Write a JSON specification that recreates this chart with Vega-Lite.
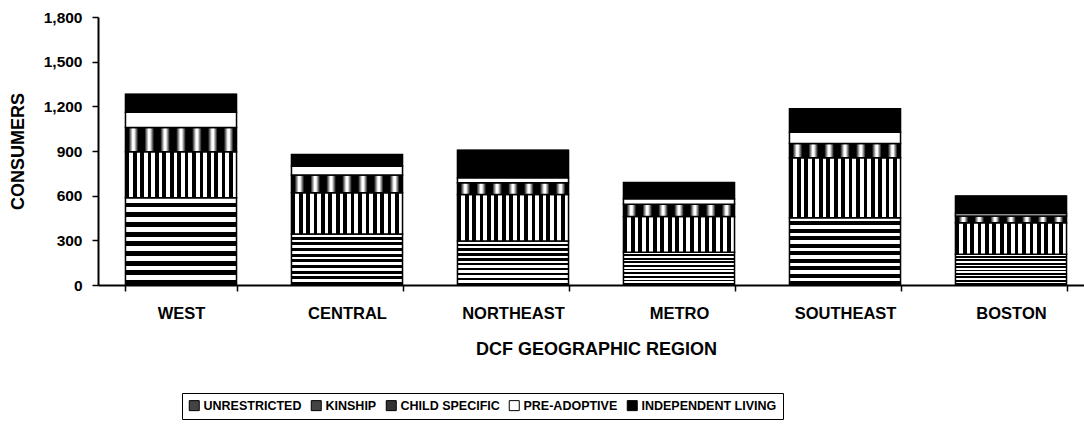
{
  "$schema": "https://vega.github.io/schema/vega-lite/v6.json",
  "autosize": {"type": "none"},
  "padding": {"left": 98, "top": 17, "right": 0, "bottom": 140},
  "width": 986,
  "height": 268,
  "background": "white",
  "config": {
    "view": {"stroke": null},
    "font": "Liberation Sans",
    "axis": {
      "domainColor": "black", "domainWidth": 2, "tickColor": "black", "tickWidth": 1.5,
      "labelColor": "black", "titleColor": "black",
      "labelFont": "Liberation Sans", "titleFont": "Liberation Sans",
      "labelFontWeight": "bold", "titleFontWeight": "bold", "grid": false
    },
    "legend": {
      "labelFont": "Liberation Sans", "labelFontWeight": "bold", "labelColor": "black"
    }
  },
  "data": {
    "values": [
      {"region": "WEST", "type": "UNRESTRICTED", "value": 586},
      {"region": "WEST", "type": "KINSHIP", "value": 309},
      {"region": "WEST", "type": "CHILD SPECIFIC", "value": 163},
      {"region": "WEST", "type": "PRE-ADOPTIVE", "value": 102},
      {"region": "WEST", "type": "INDEPENDENT LIVING", "value": 121},
      {"region": "CENTRAL", "type": "UNRESTRICTED", "value": 343},
      {"region": "CENTRAL", "type": "KINSHIP", "value": 277},
      {"region": "CENTRAL", "type": "CHILD SPECIFIC", "value": 118},
      {"region": "CENTRAL", "type": "PRE-ADOPTIVE", "value": 60},
      {"region": "CENTRAL", "type": "INDEPENDENT LIVING", "value": 78},
      {"region": "NORTHEAST", "type": "UNRESTRICTED", "value": 295},
      {"region": "NORTHEAST", "type": "KINSHIP", "value": 313},
      {"region": "NORTHEAST", "type": "CHILD SPECIFIC", "value": 79},
      {"region": "NORTHEAST", "type": "PRE-ADOPTIVE", "value": 33},
      {"region": "NORTHEAST", "type": "INDEPENDENT LIVING", "value": 185},
      {"region": "METRO", "type": "UNRESTRICTED", "value": 220},
      {"region": "METRO", "type": "KINSHIP", "value": 240},
      {"region": "METRO", "type": "CHILD SPECIFIC", "value": 82},
      {"region": "METRO", "type": "PRE-ADOPTIVE", "value": 38},
      {"region": "METRO", "type": "INDEPENDENT LIVING", "value": 108},
      {"region": "SOUTHEAST", "type": "UNRESTRICTED", "value": 452},
      {"region": "SOUTHEAST", "type": "KINSHIP", "value": 402},
      {"region": "SOUTHEAST", "type": "CHILD SPECIFIC", "value": 96},
      {"region": "SOUTHEAST", "type": "PRE-ADOPTIVE", "value": 76},
      {"region": "SOUTHEAST", "type": "INDEPENDENT LIVING", "value": 157},
      {"region": "BOSTON", "type": "UNRESTRICTED", "value": 206},
      {"region": "BOSTON", "type": "KINSHIP", "value": 212},
      {"region": "BOSTON", "type": "CHILD SPECIFIC", "value": 45},
      {"region": "BOSTON", "type": "PRE-ADOPTIVE", "value": 18},
      {"region": "BOSTON", "type": "INDEPENDENT LIVING", "value": 116}
    ]
  },
  "transform": [
    {"calculate": "indexof(['UNRESTRICTED','KINSHIP','CHILD SPECIFIC','PRE-ADOPTIVE','INDEPENDENT LIVING'], datum.type)", "as": "k"},
    {"stack": "value", "groupby": ["region"], "sort": [{"field": "k", "order": "ascending"}], "as": ["v0", "v1"]}
  ],
  "encoding": {
    "x": {
      "field": "region", "type": "nominal",
      "sort": ["WEST", "CENTRAL", "NORTHEAST", "METRO", "SOUTHEAST", "BOSTON"],
      "scale": {"range": [0, 996], "paddingInner": 0.331, "paddingOuter": 0.1655},
      "axis": {"title": "DCF GEOGRAPHIC REGION", "labelAngle": 0, "tickBand": "extent", "tickSize": 6,
               "labelFontSize": 16.5, "labelPadding": 14, "titleFontSize": 18, "titlePadding": 19}
    },
    "y": {
      "field": "v1", "type": "quantitative",
      "scale": {"domain": [0, 1800], "nice": false},
      "axis": {"title": "CONSUMERS", "values": [0, 300, 600, 900, 1200, 1500, 1800], "format": ",d",
               "tickSize": 6, "labelFontSize": 15.5, "labelPadding": 10, "titleFontSize": 18, "titlePadding": 16}
    },
    "y2": {"field": "v0"}
  },
  "layer": [
    {
      "mark": {"type": "bar", "stroke": "black", "strokeWidth": 1},
      "encoding": {
        "fill": {
          "field": "type", "type": "nominal",
          "scale": {
            "domain": ["UNRESTRICTED", "KINSHIP", "CHILD SPECIFIC", "PRE-ADOPTIVE", "INDEPENDENT LIVING"],
            "range": ["#444444", "#444444", "#333333", "white", "black"]
          },
          "legend": {
            "title": null, "orient": "none", "legendX": 84, "legendY": 376, "direction": "horizontal",
            "symbolType": "square", "symbolSize": 100, "symbolStrokeColor": "black", "symbolStrokeWidth": 1,
            "labelFontSize": 12.5, "labelOffset": 3, "columnPadding": 7, "labelLimit": 400,
            "strokeColor": "black", "padding": 6
          }
        }
      }
    },
    {
      "transform": [{"filter": "datum.type === 'UNRESTRICTED'"}],
      "mark": {"type": "bar", "stroke": "black", "strokeWidth": 1.5,
        "fill": {"gradient": "linear", "x1": 0, "y1": 0, "x2": 0, "y2": 1, "stops": [
            {"offset": 0, "color": "white"}, {"offset": 0.0556, "color": "white"}, {"offset": 0.0556, "color": "black"}, {"offset": 0.1111, "color": "black"},
            {"offset": 0.1111, "color": "white"}, {"offset": 0.1667, "color": "white"}, {"offset": 0.1667, "color": "black"}, {"offset": 0.2222, "color": "black"},
            {"offset": 0.2222, "color": "white"}, {"offset": 0.2778, "color": "white"}, {"offset": 0.2778, "color": "black"}, {"offset": 0.3333, "color": "black"},
            {"offset": 0.3333, "color": "white"}, {"offset": 0.3889, "color": "white"}, {"offset": 0.3889, "color": "black"}, {"offset": 0.4444, "color": "black"},
            {"offset": 0.4444, "color": "white"}, {"offset": 0.5, "color": "white"}, {"offset": 0.5, "color": "black"}, {"offset": 0.5556, "color": "black"},
            {"offset": 0.5556, "color": "white"}, {"offset": 0.6111, "color": "white"}, {"offset": 0.6111, "color": "black"}, {"offset": 0.6667, "color": "black"},
            {"offset": 0.6667, "color": "white"}, {"offset": 0.7222, "color": "white"}, {"offset": 0.7222, "color": "black"}, {"offset": 0.7778, "color": "black"},
            {"offset": 0.7778, "color": "white"}, {"offset": 0.8333, "color": "white"}, {"offset": 0.8333, "color": "black"}, {"offset": 0.8889, "color": "black"},
            {"offset": 0.8889, "color": "white"}, {"offset": 0.9444, "color": "white"}, {"offset": 0.9444, "color": "black"}, {"offset": 1, "color": "black"}
        ]}
      }
    },
    {
      "transform": [{"filter": "datum.type === 'KINSHIP'"}],
      "mark": {"type": "bar", "stroke": "black", "strokeWidth": 1.5,
        "fill": {"gradient": "linear", "x1": 0, "y1": 0, "x2": 1, "y2": 0, "stops": [
            {"offset": 0, "color": "black"}, {"offset": 0.0333, "color": "black"}, {"offset": 0.0333, "color": "white"}, {"offset": 0.0667, "color": "white"},
            {"offset": 0.0667, "color": "black"}, {"offset": 0.1, "color": "black"}, {"offset": 0.1, "color": "white"}, {"offset": 0.1333, "color": "white"},
            {"offset": 0.1333, "color": "black"}, {"offset": 0.1667, "color": "black"}, {"offset": 0.1667, "color": "white"}, {"offset": 0.2, "color": "white"},
            {"offset": 0.2, "color": "black"}, {"offset": 0.2333, "color": "black"}, {"offset": 0.2333, "color": "white"}, {"offset": 0.2667, "color": "white"},
            {"offset": 0.2667, "color": "black"}, {"offset": 0.3, "color": "black"}, {"offset": 0.3, "color": "white"}, {"offset": 0.3333, "color": "white"},
            {"offset": 0.3333, "color": "black"}, {"offset": 0.3667, "color": "black"}, {"offset": 0.3667, "color": "white"}, {"offset": 0.4, "color": "white"},
            {"offset": 0.4, "color": "black"}, {"offset": 0.4333, "color": "black"}, {"offset": 0.4333, "color": "white"}, {"offset": 0.4667, "color": "white"},
            {"offset": 0.4667, "color": "black"}, {"offset": 0.5, "color": "black"}, {"offset": 0.5, "color": "white"}, {"offset": 0.5333, "color": "white"},
            {"offset": 0.5333, "color": "black"}, {"offset": 0.5667, "color": "black"}, {"offset": 0.5667, "color": "white"}, {"offset": 0.6, "color": "white"},
            {"offset": 0.6, "color": "black"}, {"offset": 0.6333, "color": "black"}, {"offset": 0.6333, "color": "white"}, {"offset": 0.6667, "color": "white"},
            {"offset": 0.6667, "color": "black"}, {"offset": 0.7, "color": "black"}, {"offset": 0.7, "color": "white"}, {"offset": 0.7333, "color": "white"},
            {"offset": 0.7333, "color": "black"}, {"offset": 0.7667, "color": "black"}, {"offset": 0.7667, "color": "white"}, {"offset": 0.8, "color": "white"},
            {"offset": 0.8, "color": "black"}, {"offset": 0.8333, "color": "black"}, {"offset": 0.8333, "color": "white"}, {"offset": 0.8667, "color": "white"},
            {"offset": 0.8667, "color": "black"}, {"offset": 0.9, "color": "black"}, {"offset": 0.9, "color": "white"}, {"offset": 0.9333, "color": "white"},
            {"offset": 0.9333, "color": "black"}, {"offset": 0.9667, "color": "black"}, {"offset": 0.9667, "color": "white"}, {"offset": 1, "color": "white"}
        ]}
      }
    },
    {
      "transform": [{"filter": "datum.type === 'CHILD SPECIFIC'"}],
      "mark": {"type": "bar", "stroke": "black", "strokeWidth": 1.5,
        "fill": {"gradient": "linear", "x1": 0, "y1": 0, "x2": 1, "y2": 0, "stops": [
            {"offset": 0, "color": "black"}, {"offset": 0.0286, "color": "black"}, {"offset": 0.0643, "color": "white"}, {"offset": 0.0786, "color": "white"}, {"offset": 0.1143, "color": "black"},
            {"offset": 0.1714, "color": "black"}, {"offset": 0.2071, "color": "white"}, {"offset": 0.2214, "color": "white"}, {"offset": 0.2571, "color": "black"},
            {"offset": 0.3143, "color": "black"}, {"offset": 0.35, "color": "white"}, {"offset": 0.3643, "color": "white"}, {"offset": 0.4, "color": "black"},
            {"offset": 0.4571, "color": "black"}, {"offset": 0.4929, "color": "white"}, {"offset": 0.5071, "color": "white"}, {"offset": 0.5429, "color": "black"},
            {"offset": 0.6, "color": "black"}, {"offset": 0.6357, "color": "white"}, {"offset": 0.65, "color": "white"}, {"offset": 0.6857, "color": "black"},
            {"offset": 0.7429, "color": "black"}, {"offset": 0.7786, "color": "white"}, {"offset": 0.7929, "color": "white"}, {"offset": 0.8286, "color": "black"},
            {"offset": 0.8857, "color": "black"}, {"offset": 0.9214, "color": "white"}, {"offset": 0.9357, "color": "white"}, {"offset": 0.9714, "color": "black"}, {"offset": 1, "color": "black"}
        ]}
      }
    },
    {
      "transform": [{"filter": "datum.type === 'PRE-ADOPTIVE'"}],
      "mark": {"type": "bar", "stroke": "black", "strokeWidth": 1.5, "fill": "white"}
    },
    {
      "transform": [{"filter": "datum.type === 'INDEPENDENT LIVING'"}],
      "mark": {"type": "bar", "stroke": "black", "strokeWidth": 1.5, "fill": "black"}
    }
  ]
}
